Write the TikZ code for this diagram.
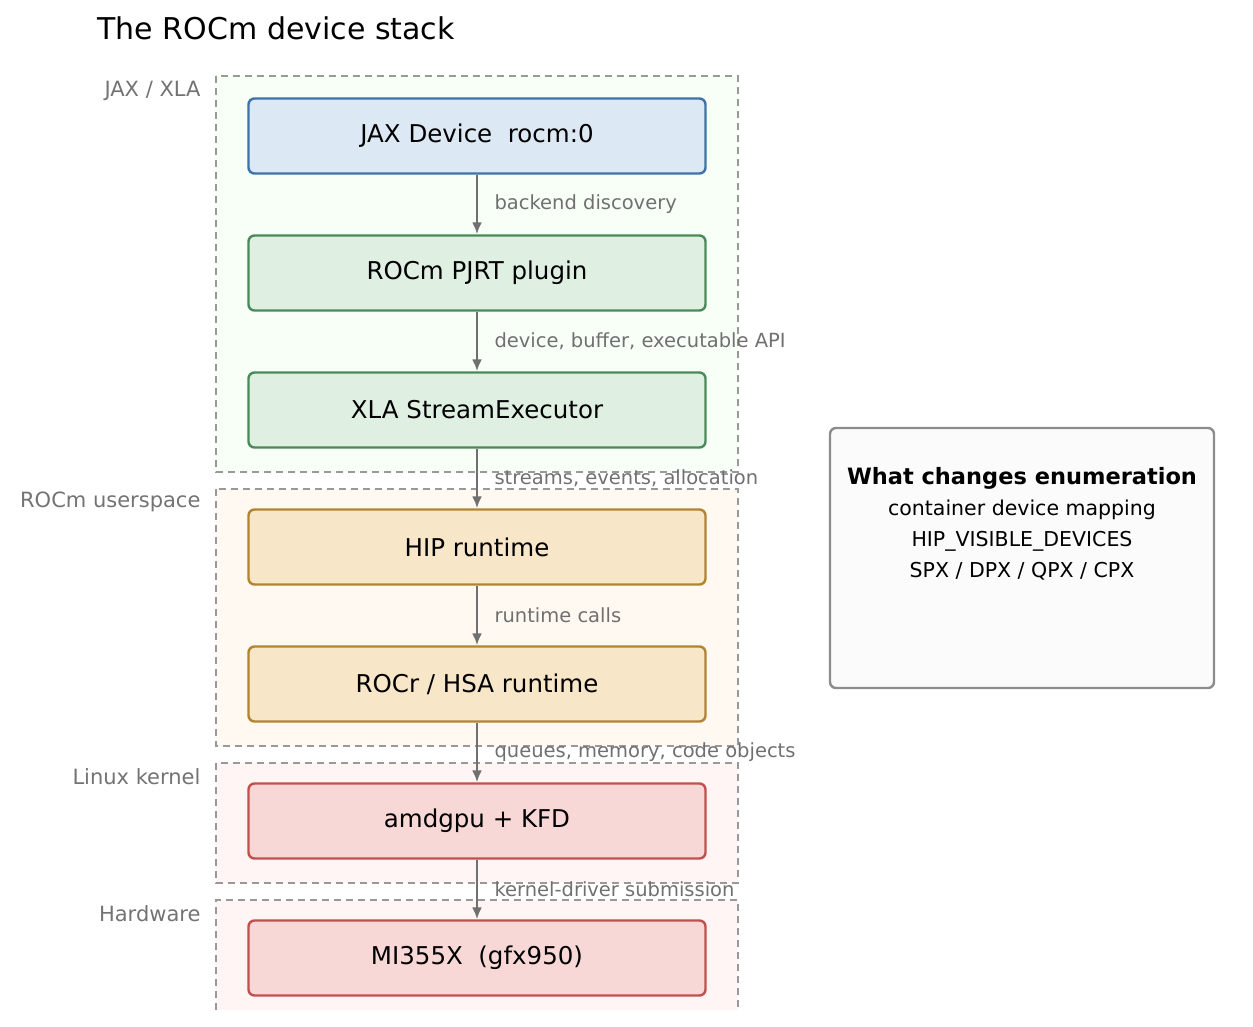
\documentclass[tikz,border=0pt]{standalone}
\usepackage{fontspec}
\setmainfont{DejaVu Sans}
\usetikzlibrary{positioning,arrows.meta}
\definecolor{jaxfill}{HTML}{DCE8F4}\definecolor{jaxline}{HTML}{3D73A8}
\definecolor{xlafill}{HTML}{DFF0E3}\definecolor{xlaline}{HTML}{4A8A5A}
\definecolor{hipfill}{HTML}{F7E6C8}\definecolor{hipline}{HTML}{B08430}
\definecolor{kfdfill}{HTML}{F8D8D6}\definecolor{kfdline}{HTML}{C0504D}
\definecolor{edgegray}{HTML}{707070}
\tikzset{
  layer/.style={rounded corners=6pt, line width=2.4pt, minimum width=457pt, minimum height=75pt,
    font=\fontsize{24.5}{30}\selectfont},
  group/.style={draw=gray!80, line width=2pt, dash pattern=on 7pt off 5pt},
  grouplabel/.style={anchor=east, text=gray!90!black, font=\fontsize{21}{26}\selectfont},
  elabel/.style={anchor=west, text=edgegray, font=\fontsize{19.5}{24}\selectfont},
  notetext/.style={font=\fontsize{20.5}{25}\selectfont},
  link/.style={draw=edgegray, line width=2.4pt, -{Latex[length=12pt,width=10pt]}}
}
\begin{document}
\begin{tikzpicture}[x=1pt,y=-1pt]
  \useasboundingbox (0,0) rectangle (1253,1027);

  % layer groups
  \fill[green!3] (216,76) rectangle (738,472);
  \draw[group] (216,76) rectangle (738,472);
  \fill[orange!5] (216,489) rectangle (738,746);
  \draw[group] (216,489) rectangle (738,746);
  \fill[red!4] (216,763) rectangle (738,883);
  \draw[group] (216,763) rectangle (738,883);
  \fill[red!4] (216,900) rectangle (738,1010);
  \draw[group] (216,1010) -- (216,900) -- (738,900) -- (738,1010);

  \node[grouplabel] (gjax) at (204,91) {JAX / XLA};
  \node[grouplabel] (groc) at (204,502) {ROCm userspace};
  \node[grouplabel] (glin) at (204,777) {Linux kernel};
  \node[grouplabel] (ghw) at (204,914) {Hardware};

  \node[anchor=west, font=\fontsize{30}{36}\selectfont] (title) at (94,28) {The ROCm device stack};

  % stack
  \node[layer, fill=jaxfill, draw=jaxline] (jax) at (477,136) {JAX Device\ \ rocm:0};
  \node[layer, fill=xlafill, draw=xlaline] (pjrt) at (477,273) {ROCm PJRT plugin};
  \node[layer, fill=xlafill, draw=xlaline] (se) at (477,410) {XLA StreamExecutor};
  \node[layer, fill=hipfill, draw=hipline] (hip) at (477,547) {HIP runtime};
  \node[layer, fill=hipfill, draw=hipline] (rocr) at (477,684) {ROCr / HSA runtime};
  \node[layer, fill=kfdfill, draw=kfdline] (kfd) at (477,821) {amdgpu + KFD};
  \node[layer, fill=kfdfill, draw=kfdline] (gpu) at (477,958) {MI355X\ \ (gfx950)};

  \draw[link] (jax) -- (pjrt) node[elabel, pos=0.5, xshift=13pt] {backend discovery};
  \draw[link] (pjrt) -- (se) node[elabel, pos=0.5, xshift=13pt] {device, buffer, executable API};
  \draw[link] (se) -- (hip) node[elabel, pos=0.5, xshift=13pt] {streams, events, allocation};
  \draw[link] (hip) -- (rocr) node[elabel, pos=0.5, xshift=13pt] {runtime calls};
  \draw[link] (rocr) -- (kfd) node[elabel, pos=0.5, xshift=13pt] {queues, memory, code objects};
  \draw[link] (kfd) -- (gpu) node[elabel, pos=0.5, xshift=13pt] {kernel-driver submission};

  % side note
  \draw[rounded corners=6pt, draw=gray!90, line width=2.4pt, fill=gray!3] (830,428) rectangle (1214,688);
  \node[font=\fontsize{22.5}{28}\selectfont\bfseries] (note) at (1022,478) {What changes enumeration};
  \node[notetext, below=4pt of note] (n1) {container device mapping};
  \node[notetext, below=4pt of n1] (n2) {HIP\_VISIBLE\_DEVICES};
  \node[notetext, below=4pt of n2] (n3) {SPX / DPX / QPX / CPX};
\end{tikzpicture}
\end{document}
